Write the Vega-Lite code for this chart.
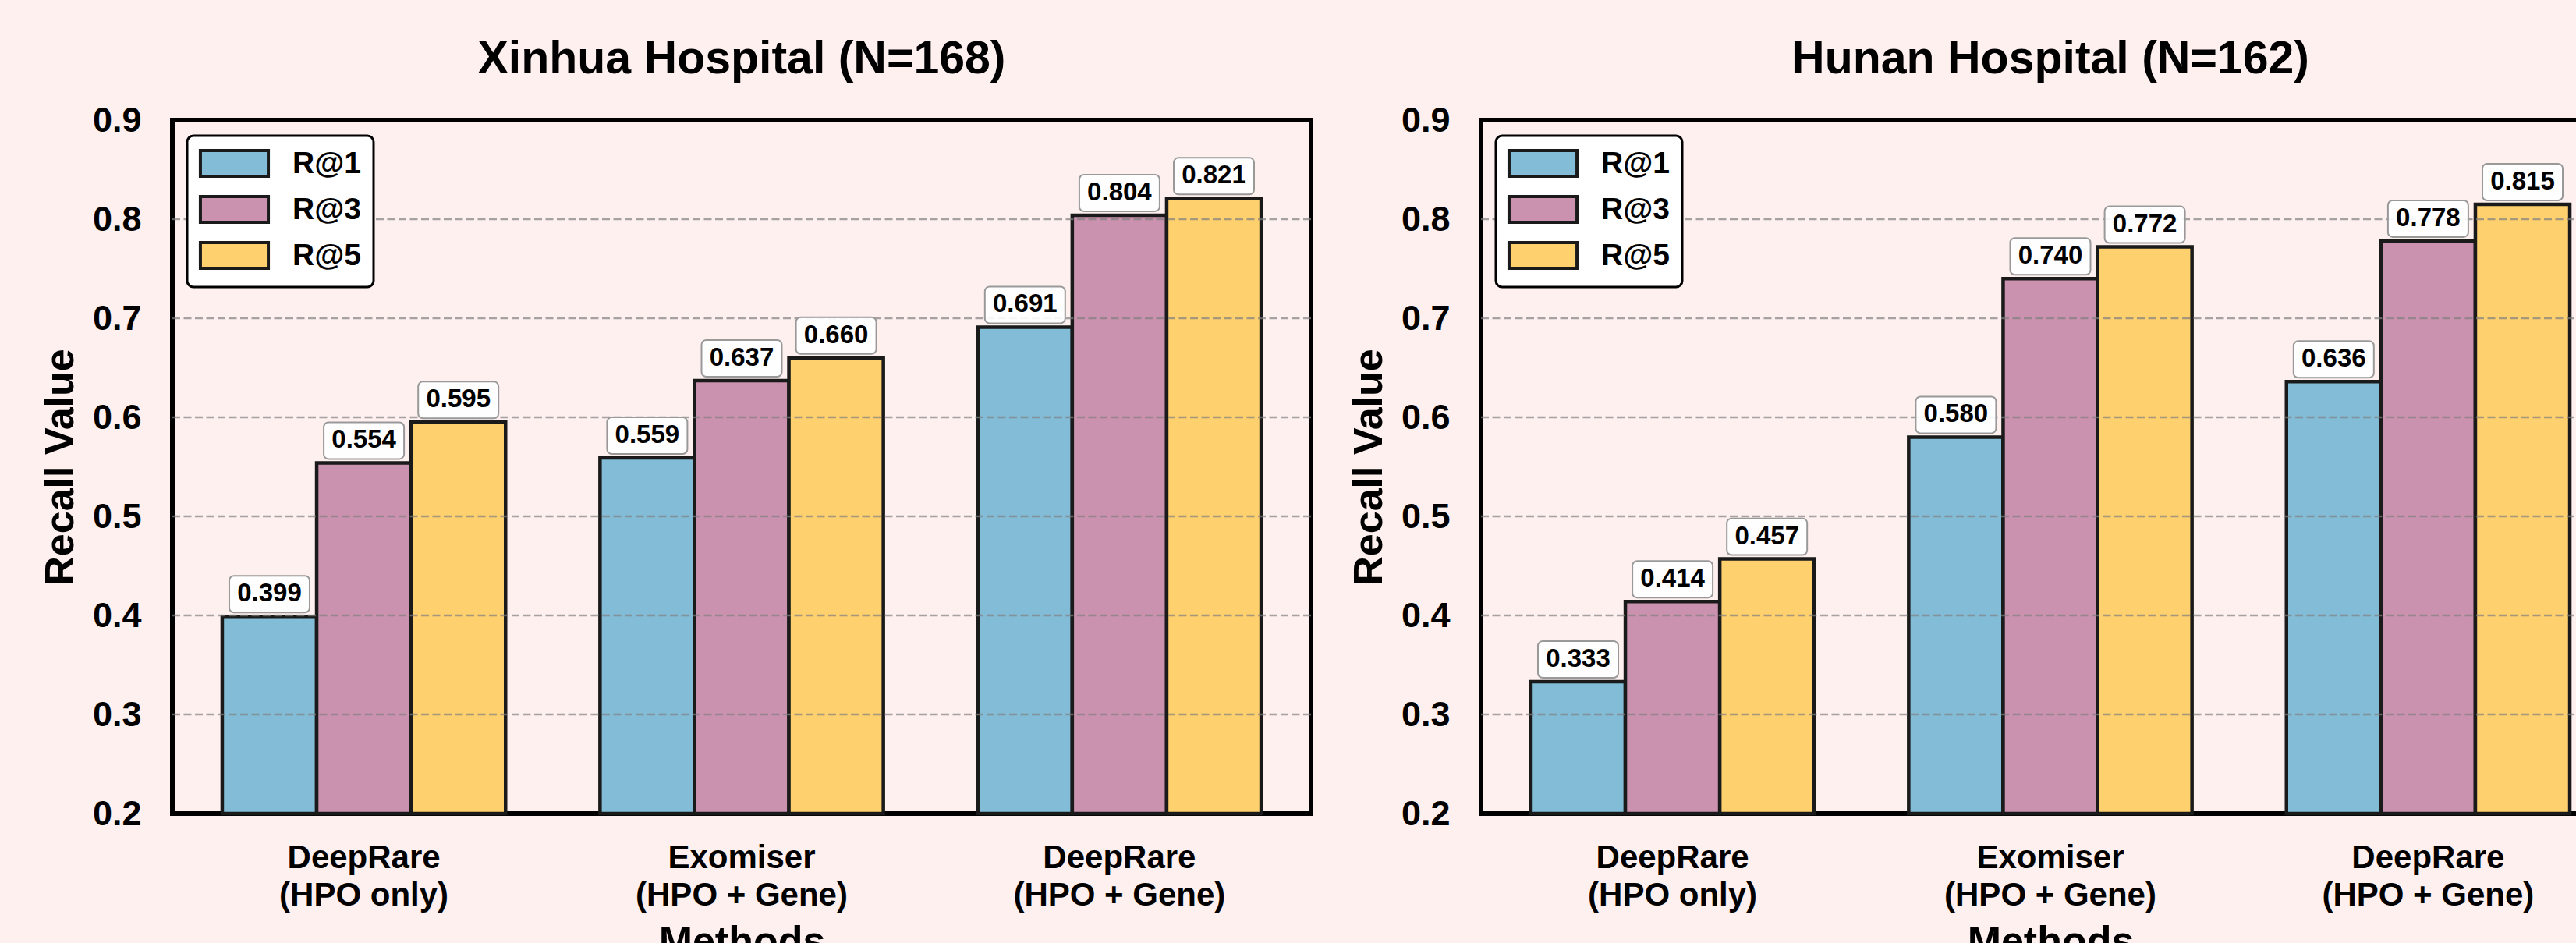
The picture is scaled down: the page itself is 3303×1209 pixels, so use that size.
{
  "$schema": "https://vega.github.io/schema/vega-lite/v6.json",
  "background": "#FFF0F0",
  "padding": {"left": 48, "top": 44, "right": 0, "bottom": 0},
  "spacing": 40,
  "resolve": {"legend": {"color": "independent"}},
  "config": {
    "font": "Liberation Sans",
    "view": {"stroke": "#000000", "strokeWidth": 6, "fill": null},
    "title": {"fontSize": 59, "fontWeight": "bold", "color": "#000000", "anchor": "middle", "offset": 26},
    "legend": {"strokeWidth": 3},
    "axis": {"grid": false, "domain": false, "ticks": false, "labelColor": "#000000", "titleColor": "#000000", "labelFontWeight": "bold", "titleFontWeight": "bold", "labelOverlap": false, "labelFlush": false, "labelLimit": 0}
  },
  "hconcat": [
    {
      "width": 1460,
      "height": 889,
      "title": "Xinhua Hospital (N=168)",
      "data": {"values": [
        {"method": "DeepRare|(HPO only)", "metric": "R@1", "value": 0.399},
        {"method": "DeepRare|(HPO only)", "metric": "R@3", "value": 0.554},
        {"method": "DeepRare|(HPO only)", "metric": "R@5", "value": 0.595},
        {"method": "Exomiser|(HPO + Gene)", "metric": "R@1", "value": 0.559},
        {"method": "Exomiser|(HPO + Gene)", "metric": "R@3", "value": 0.637},
        {"method": "Exomiser|(HPO + Gene)", "metric": "R@5", "value": 0.660},
        {"method": "DeepRare|(HPO + Gene)", "metric": "R@1", "value": 0.691},
        {"method": "DeepRare|(HPO + Gene)", "metric": "R@3", "value": 0.804},
        {"method": "DeepRare|(HPO + Gene)", "metric": "R@5", "value": 0.821}
      ]},
      "encoding": {
        "x": {"field": "method", "type": "nominal", "sort": null, "title": "Methods",
          "scale": {"paddingInner": 0.25, "paddingOuter": 0.132},
          "axis": {"labelAngle": 0, "labelExpr": "split(datum.value, '|')", "labelFontSize": 42, "labelLineHeight": 48, "labelPadding": 36, "titleFontSize": 52, "titlePadding": 14}},
        "xOffset": {"field": "metric", "type": "nominal", "scale": {"paddingInner": 0, "paddingOuter": 0}},
        "y": {"field": "value", "type": "quantitative", "title": "Recall Value",
          "scale": {"domain": [0.2, 0.9], "zero": false, "nice": false},
          "axis": {"values": [0.2, 0.3, 0.4, 0.5, 0.6, 0.7, 0.8, 0.9], "format": ".1f", "labelFontSize": 45, "labelPadding": 40, "titleFontSize": 52, "titlePadding": 14}}
      },
      "layer": [
        {
          "mark": {"type": "bar", "stroke": "#1a1a1a", "strokeWidth": 4.5},
          "encoding": {
            "y2": {"datum": 0.2},
            "color": {"field": "metric", "type": "nominal",
              "scale": {"domain": ["R@1", "R@3", "R@5"], "range": ["#82BCD7", "#CB92AF", "#FFD06E"]},
              "legend": {"title": null, "orient": "none", "legendX": 19, "legendY": 20, "padding": 16, "fillColor": "#FFFFFF", "strokeColor": "#000000", "cornerRadius": 8,
                "symbolType": "M-2.64,-1H2.64V1H-2.64Z", "symbolSize": 1089, "symbolStrokeWidth": 4, "symbolOffset": 25, "labelOffset": 55, "rowPadding": 10,
                "labelFontSize": 39, "labelFontWeight": "bold", "labelColor": "#000000",
                "encode": {"symbols": {"update": {"stroke": {"value": "#1a1a1a"}, "strokeWidth": {"value": 4}, "opacity": {"value": 1}}}}}
            }
          }
        },
        {
          "data": {"values": [{"g": 0.3}, {"g": 0.4}, {"g": 0.5}, {"g": 0.6}, {"g": 0.7}, {"g": 0.8}]},
          "mark": {"type": "rule", "color": "#808080", "opacity": 0.7, "strokeWidth": 2.7, "strokeDash": [10, 4.5]},
          "encoding": {"x": null, "xOffset": null, "y": {"field": "g", "type": "quantitative"}}
        },
        {
          "mark": {"type": "point", "shape": "M-0.883,-0.456H0.883A0.117,0.117 0 0 1 1,-0.339V0.339A0.117,0.117 0 0 1 0.883,0.456H-0.883A0.117,0.117 0 0 1 -1,0.339V-0.339A0.117,0.117 0 0 1 -0.883,-0.456Z", "size": 10609, "filled": true, "fill": "#FFFFFF", "fillOpacity": 0.9, "stroke": "#999999", "strokeWidth": 2, "opacity": 1, "yOffset": -28.5}
        },
        {
          "mark": {"type": "text", "fontSize": 33, "fontWeight": "bold", "color": "#000000", "baseline": "middle", "yOffset": -29},
          "encoding": {"text": {"field": "value", "type": "quantitative", "format": ".3f"}}
        }
      ]
    },
    {
      "width": 1460,
      "height": 889,
      "title": "Hunan Hospital (N=162)",
      "data": {"values": [
        {"method": "DeepRare|(HPO only)", "metric": "R@1", "value": 0.333},
        {"method": "DeepRare|(HPO only)", "metric": "R@3", "value": 0.414},
        {"method": "DeepRare|(HPO only)", "metric": "R@5", "value": 0.457},
        {"method": "Exomiser|(HPO + Gene)", "metric": "R@1", "value": 0.580},
        {"method": "Exomiser|(HPO + Gene)", "metric": "R@3", "value": 0.740},
        {"method": "Exomiser|(HPO + Gene)", "metric": "R@5", "value": 0.772},
        {"method": "DeepRare|(HPO + Gene)", "metric": "R@1", "value": 0.636},
        {"method": "DeepRare|(HPO + Gene)", "metric": "R@3", "value": 0.778},
        {"method": "DeepRare|(HPO + Gene)", "metric": "R@5", "value": 0.815}
      ]},
      "encoding": {
        "x": {"field": "method", "type": "nominal", "sort": null, "title": "Methods",
          "scale": {"paddingInner": 0.25, "paddingOuter": 0.132},
          "axis": {"labelAngle": 0, "labelExpr": "split(datum.value, '|')", "labelFontSize": 42, "labelLineHeight": 48, "labelPadding": 36, "titleFontSize": 52, "titlePadding": 14}},
        "xOffset": {"field": "metric", "type": "nominal", "scale": {"paddingInner": 0, "paddingOuter": 0}},
        "y": {"field": "value", "type": "quantitative", "title": "Recall Value",
          "scale": {"domain": [0.2, 0.9], "zero": false, "nice": false},
          "axis": {"values": [0.2, 0.3, 0.4, 0.5, 0.6, 0.7, 0.8, 0.9], "format": ".1f", "labelFontSize": 45, "labelPadding": 40, "titleFontSize": 52, "titlePadding": 14}}
      },
      "layer": [
        {
          "mark": {"type": "bar", "stroke": "#1a1a1a", "strokeWidth": 4.5},
          "encoding": {
            "y2": {"datum": 0.2},
            "color": {"field": "metric", "type": "nominal",
              "scale": {"domain": ["R@1", "R@3", "R@5"], "range": ["#82BCD7", "#CB92AF", "#FFD06E"]},
              "legend": {"title": null, "orient": "none", "legendX": 19, "legendY": 20, "padding": 16, "fillColor": "#FFFFFF", "strokeColor": "#000000", "cornerRadius": 8,
                "symbolType": "M-2.64,-1H2.64V1H-2.64Z", "symbolSize": 1089, "symbolStrokeWidth": 4, "symbolOffset": 25, "labelOffset": 55, "rowPadding": 10,
                "labelFontSize": 39, "labelFontWeight": "bold", "labelColor": "#000000",
                "encode": {"symbols": {"update": {"stroke": {"value": "#1a1a1a"}, "strokeWidth": {"value": 4}, "opacity": {"value": 1}}}}}
            }
          }
        },
        {
          "data": {"values": [{"g": 0.3}, {"g": 0.4}, {"g": 0.5}, {"g": 0.6}, {"g": 0.7}, {"g": 0.8}]},
          "mark": {"type": "rule", "color": "#808080", "opacity": 0.7, "strokeWidth": 2.7, "strokeDash": [10, 4.5]},
          "encoding": {"x": null, "xOffset": null, "y": {"field": "g", "type": "quantitative"}}
        },
        {
          "mark": {"type": "point", "shape": "M-0.883,-0.456H0.883A0.117,0.117 0 0 1 1,-0.339V0.339A0.117,0.117 0 0 1 0.883,0.456H-0.883A0.117,0.117 0 0 1 -1,0.339V-0.339A0.117,0.117 0 0 1 -0.883,-0.456Z", "size": 10609, "filled": true, "fill": "#FFFFFF", "fillOpacity": 0.9, "stroke": "#999999", "strokeWidth": 2, "opacity": 1, "yOffset": -28.5}
        },
        {
          "mark": {"type": "text", "fontSize": 33, "fontWeight": "bold", "color": "#000000", "baseline": "middle", "yOffset": -29},
          "encoding": {"text": {"field": "value", "type": "quantitative", "format": ".3f"}}
        }
      ]
    }
  ]
}
